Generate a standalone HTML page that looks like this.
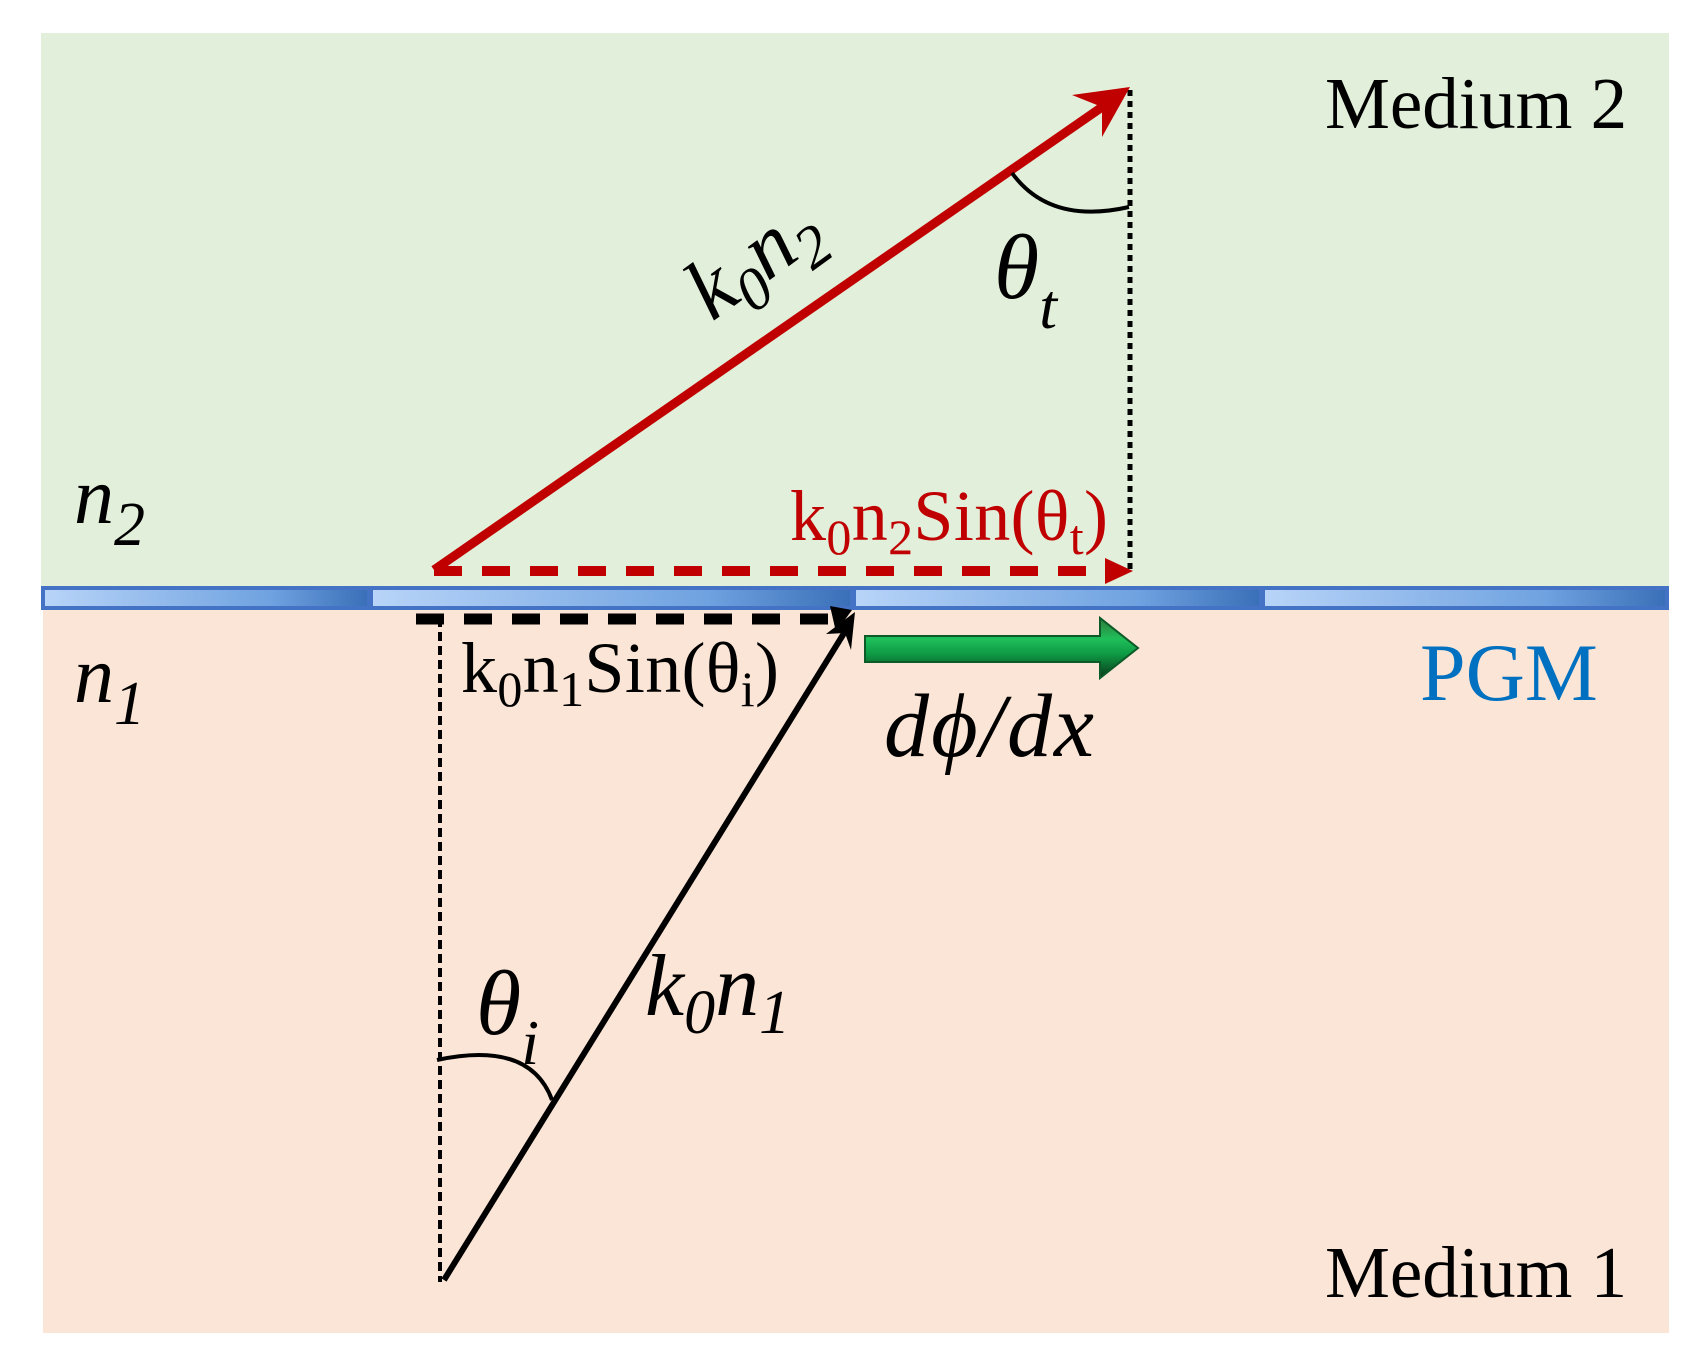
<!DOCTYPE html>
<html><head><meta charset="utf-8"><style>
html,body{margin:0;padding:0;background:#fff;}
svg{display:block;}
text{font-family:"Liberation Serif",serif;}
</style></head><body>
<svg width="1693" height="1356" viewBox="0 0 1693 1356" xmlns="http://www.w3.org/2000/svg">
<defs>
<linearGradient id="bar" x1="0" x2="1" y1="0" y2="0">
<stop offset="0" stop-color="#b8d4f8"/><stop offset="0.7" stop-color="#6fa2e0"/><stop offset="1" stop-color="#3a70b8"/>
</linearGradient>
<linearGradient id="grn" x1="0" x2="0" y1="0" y2="1">
<stop offset="0" stop-color="#2f7a3a"/><stop offset="0.35" stop-color="#1fbf5a"/><stop offset="0.6" stop-color="#0e9a44"/><stop offset="1" stop-color="#0a3a1a"/>
</linearGradient>
</defs>
<rect x="41" y="33" width="1628" height="553" fill="#e2efda"/>
<rect x="43" y="610" width="1626" height="723" fill="#fbe5d6"/>
<rect x="41" y="586" width="1628" height="24" fill="#4472c4"/>
<rect x="45" y="590" width="322" height="16" fill="url(#bar)"/>
<rect x="373" y="590" width="477" height="16" fill="url(#bar)"/>
<rect x="856" y="590" width="403" height="16" fill="url(#bar)"/>
<rect x="1265" y="590" width="400" height="16" fill="url(#bar)"/>
<line x1="1130" y1="90" x2="1130" y2="574" stroke="#000" stroke-width="5" stroke-dasharray="6,5"/>
<line x1="440" y1="618" x2="440" y2="1282" stroke="#000" stroke-width="4" stroke-dasharray="9,5"/>
<line x1="434" y1="570" x2="1105" y2="105" stroke="#c00000" stroke-width="9"/>
<polygon points="1130,87 1072,95 1102,107 1102,137" fill="#c00000"/>
<line x1="434" y1="571" x2="1105" y2="571" stroke="#c00000" stroke-width="10" stroke-dasharray="28,20"/>
<polygon points="1133,571 1105,558 1105,584" fill="#c00000"/>
<line x1="416" y1="619" x2="840" y2="619" stroke="#000" stroke-width="11" stroke-dasharray="28,20"/>
<polygon points="852,610 830,606 836,632" fill="#000"/>
<line x1="444" y1="1280" x2="846" y2="630" stroke="#000" stroke-width="6"/>
<polygon points="855,612 826,634 845,633 851,650" fill="#000"/>
<polygon points="865,636 1100,636 1100,618 1138,648 1100,678 1100,662 865,662" fill="url(#grn)" stroke="#0b5a28" stroke-width="2"/>
<path d="M1012,173 Q1050,225 1129,207" fill="none" stroke="#000" stroke-width="4"/>
<path d="M437,1060 Q530,1040 552,1100" fill="none" stroke="#000" stroke-width="4"/>
<text x="1325" y="128" font-size="73">Medium 2</text>
<text x="1325" y="1297" font-size="73">Medium 1</text>
<text x="1420" y="700" font-size="82" fill="#0070c0">PGM</text>
<text x="74" y="523" font-size="80" font-style="italic">n<tspan font-size="62" dy="22">2</tspan></text>
<text x="74" y="702" font-size="80" font-style="italic">n<tspan font-size="62" dy="22">1</tspan></text>
<text transform="translate(712,322) rotate(-36)" font-size="86" font-style="italic">k<tspan font-size="60" dy="18">0</tspan><tspan dy="-18">n</tspan><tspan font-size="60" dy="18">2</tspan></text>
<text x="994" y="298" font-size="92" font-style="italic">θ<tspan font-size="64" dy="30">t</tspan></text>
<text x="476" y="1034" font-size="92" font-style="italic">θ<tspan font-size="64" dy="30">i</tspan></text>
<text x="645" y="1015" font-size="88" font-style="italic">k<tspan font-size="62" dy="18">0</tspan><tspan dy="-18">n</tspan><tspan font-size="62" dy="18">1</tspan></text>
<text x="790" y="540" font-size="72" fill="#c00000" textLength="318">k<tspan font-size="50" dy="14">0</tspan><tspan dy="-14">n</tspan><tspan font-size="50" dy="14">2</tspan><tspan dy="-14">Sin(θ</tspan><tspan font-size="50" dy="14">t</tspan><tspan dy="-14">)</tspan></text>
<text x="461" y="692" font-size="72" textLength="318">k<tspan font-size="50" dy="14">0</tspan><tspan dy="-14">n</tspan><tspan font-size="50" dy="14">1</tspan><tspan dy="-14">Sin(θ</tspan><tspan font-size="50" dy="14">i</tspan><tspan dy="-14">)</tspan></text>
<text x="884" y="756" font-size="90" font-style="italic" textLength="210">dϕ/dx</text>
</svg>
</body></html>
